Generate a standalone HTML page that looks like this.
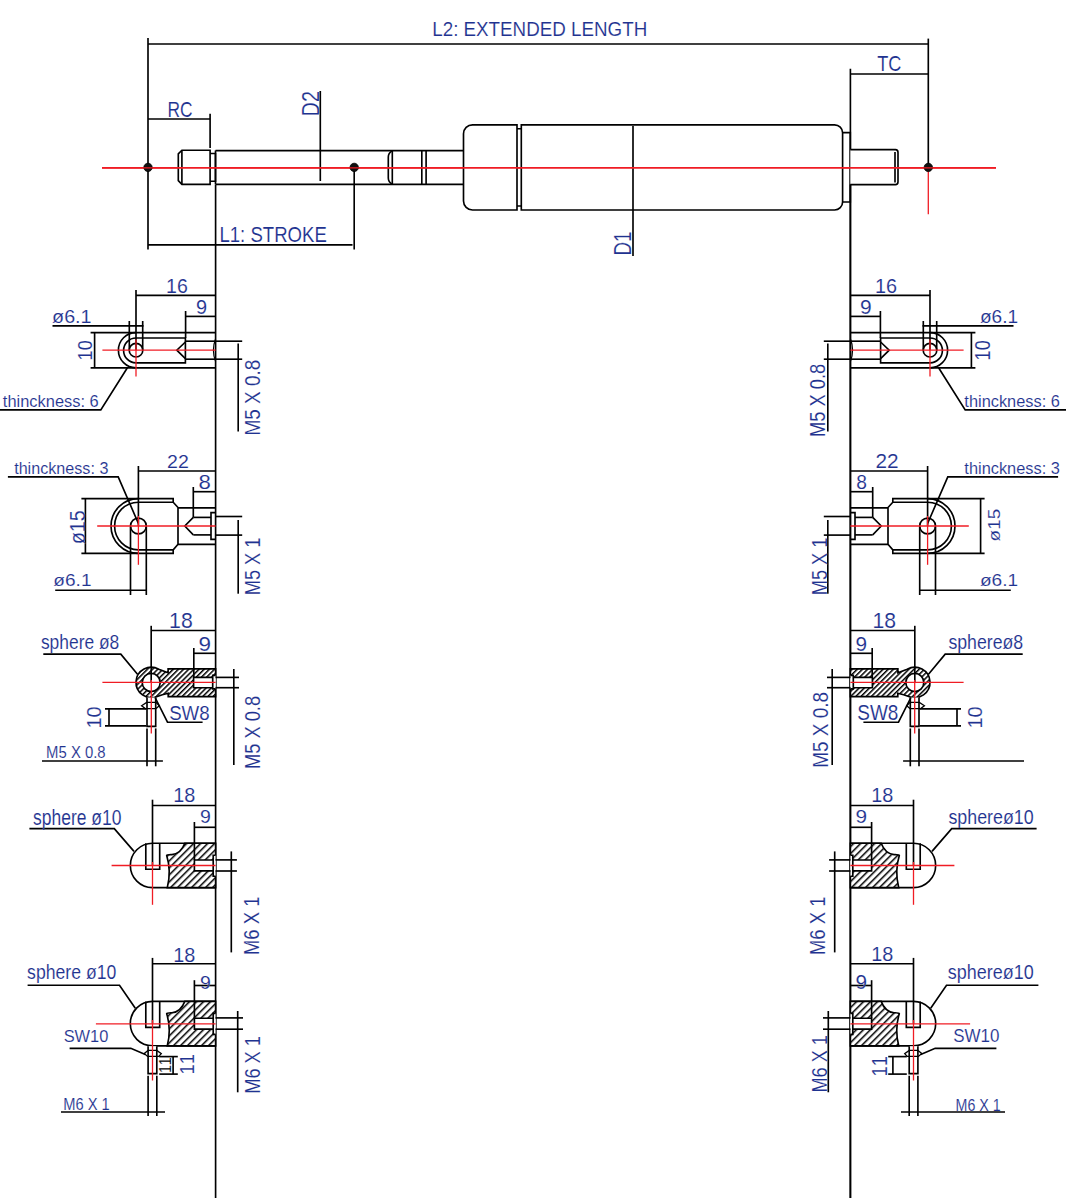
<!DOCTYPE html>
<html><head><meta charset="utf-8"><style>
html,body{margin:0;padding:0;background:#fff;width:1066px;height:1198px;overflow:hidden}
svg{display:block}
text{font-family:"Liberation Sans",sans-serif}
</style></head><body>
<svg width="1066" height="1198" viewBox="0 0 1066 1198" stroke-linecap="butt">
<rect width="1066" height="1198" fill="#fff"/>
<defs>
<pattern id="h3" patternUnits="userSpaceOnUse" width="8" height="3.65" patternTransform="rotate(-45)"><rect width="8" height="3.65" fill="#fff"/><line x1="0" y1="0.7" x2="8" y2="0.7" stroke="#000" stroke-width="1.6"/></pattern>
<pattern id="h3m" patternUnits="userSpaceOnUse" width="8" height="3.65" patternTransform="rotate(45)"><rect width="8" height="3.65" fill="#fff"/><line x1="0" y1="0.7" x2="8" y2="0.7" stroke="#000" stroke-width="1.6"/></pattern>
<pattern id="h4" patternUnits="userSpaceOnUse" width="8" height="4.95" patternTransform="rotate(-45)"><rect width="8" height="4.95" fill="#fff"/><line x1="0" y1="0.7" x2="8" y2="0.7" stroke="#000" stroke-width="1.6"/></pattern>
<pattern id="h4m" patternUnits="userSpaceOnUse" width="8" height="4.95" patternTransform="rotate(45)"><rect width="8" height="4.95" fill="#fff"/><line x1="0" y1="0.7" x2="8" y2="0.7" stroke="#000" stroke-width="1.6"/></pattern>
</defs>
<line x1="102.00" y1="167.80" x2="996.00" y2="167.80" stroke="#f01c24" stroke-width="1.4"/>
<line x1="928.30" y1="167.80" x2="928.30" y2="214.30" stroke="#f01c24" stroke-width="1.3"/>
<line x1="148.00" y1="37.90" x2="148.00" y2="249.50" stroke="#000" stroke-width="1.65"/>
<line x1="148.00" y1="44.00" x2="928.30" y2="44.00" stroke="#000" stroke-width="1.65"/>
<line x1="928.30" y1="38.60" x2="928.30" y2="167.40" stroke="#000" stroke-width="1.65"/>
<line x1="148.00" y1="119.00" x2="210.10" y2="119.00" stroke="#000" stroke-width="1.65"/>
<line x1="210.10" y1="113.80" x2="210.10" y2="148.00" stroke="#000" stroke-width="1.65"/>
<path d="M210.1 150.2 H181.9 L178.3 153.8 V180.6 L181.9 184.3 H210.1 Z" fill="#fff" stroke="#000" stroke-width="1.65" />
<line x1="181.90" y1="150.20" x2="181.90" y2="184.30" stroke="#000" stroke-width="1.65"/>
<path d="M210.1 153.5 H215.5 V181.2 H210.1" fill="none" stroke="#000" stroke-width="1.65" />
<path d="M215.5 150.6 H463.5 M215.5 184.3 H463.5 M215.5 150.6 V184.3" fill="none" stroke="#000" stroke-width="1.65" />
<line x1="320.30" y1="91.00" x2="320.30" y2="181.00" stroke="#000" stroke-width="1.65"/>
<path d="M392.3 150.6 Q388.3 153 388.3 157 V178 Q388.3 182 392.3 184.3" fill="none" stroke="#000" stroke-width="1.65" />
<line x1="392.30" y1="150.60" x2="392.30" y2="184.30" stroke="#000" stroke-width="1.65"/>
<line x1="421.80" y1="150.60" x2="421.80" y2="184.30" stroke="#000" stroke-width="1.65"/>
<line x1="426.10" y1="150.60" x2="426.10" y2="184.30" stroke="#000" stroke-width="1.65"/>
<line x1="354.20" y1="167.40" x2="354.20" y2="249.50" stroke="#000" stroke-width="1.65"/>
<line x1="148.00" y1="244.80" x2="352.50" y2="244.80" stroke="#000" stroke-width="1.65"/>
<path d="M517 124.8 H472.5 A9 9 0 0 0 463.5 133.8 V201 A9 9 0 0 0 472.5 210 H517 Z" fill="#fff" stroke="#000" stroke-width="1.65" />
<path d="M517 128.7 H521.3 M517 206 H521.3" fill="none" stroke="#000" stroke-width="1.65" />
<path d="M521.3 124.8 H834.6 A8 8 0 0 1 842.6 132.8 V202 A8 8 0 0 1 834.6 210 H521.3 Z" fill="#fff" stroke="#000" stroke-width="1.65" />
<line x1="633.00" y1="126.00" x2="633.00" y2="256.00" stroke="#000" stroke-width="1.65"/>
<path d="M842.6 132.6 H850.3 V202 H842.6" fill="none" stroke="#000" stroke-width="1.65" />
<line x1="850.40" y1="68.80" x2="850.40" y2="1198.00" stroke="#000" stroke-width="1.65"/>
<line x1="850.40" y1="74.00" x2="928.30" y2="74.00" stroke="#000" stroke-width="1.65"/>
<path d="M850.3 149.6 H895.5 Q898 149.6 898 152.5 V181.7 Q898 184.6 895.5 184.6 H850.3" fill="#fff" stroke="#000" stroke-width="1.65" />
<line x1="895.00" y1="152.00" x2="895.00" y2="182.50" stroke="#000" stroke-width="1.65"/>
<line x1="102.00" y1="167.80" x2="996.00" y2="167.80" stroke="#f01c24" stroke-width="1.4"/>
<circle cx="148.00" cy="167.40" r="4.20" fill="#111" stroke="#000" stroke-width="0.8"/>
<circle cx="354.20" cy="167.40" r="4.20" fill="#111" stroke="#000" stroke-width="0.8"/>
<circle cx="928.30" cy="167.40" r="4.20" fill="#111" stroke="#000" stroke-width="0.8"/>
<line x1="102.00" y1="167.80" x2="996.00" y2="167.80" stroke="#f01c24" stroke-width="1.3"/>
<g>
<line x1="215.60" y1="184.50" x2="215.60" y2="1198.00" stroke="#000" stroke-width="1.65"/>
<path d="M215.6 332.6 H136.0 A17.6 17.6 0 0 0 136.0 367.8 H215.6" fill="none" stroke="#000" stroke-width="1.65" />
<line x1="90.60" y1="332.60" x2="136.00" y2="332.60" stroke="#000" stroke-width="1.65"/>
<line x1="90.60" y1="367.80" x2="136.00" y2="367.80" stroke="#000" stroke-width="1.65"/>
<line x1="94.60" y1="332.60" x2="94.60" y2="367.80" stroke="#000" stroke-width="1.65"/>
<path d="M185.4 338 H136.0 A12.4 12.4 0 0 0 136.0 362.8 H185.4 Z" fill="none" stroke="#000" stroke-width="1.65" />
<polyline points="185.40,342.00 176.80,350.20 185.40,358.60" fill="none" stroke="#000" stroke-width="1.65"/>
<line x1="185.40" y1="341.20" x2="215.60" y2="341.20" stroke="#000" stroke-width="1.65"/>
<line x1="185.40" y1="359.20" x2="215.60" y2="359.20" stroke="#000" stroke-width="1.65"/>
<path d="M215.6 338.8 Q211.2 350.2 215.6 361.6" fill="none" stroke="#000" stroke-width="1.2" />
<line x1="215.60" y1="341.20" x2="242.20" y2="341.20" stroke="#000" stroke-width="1.65"/>
<line x1="215.60" y1="359.20" x2="242.20" y2="359.20" stroke="#000" stroke-width="1.65"/>
<line x1="238.20" y1="343.50" x2="238.20" y2="431.50" stroke="#000" stroke-width="1.65"/>
<circle cx="136.00" cy="350.20" r="6.80" fill="none" stroke="#000" stroke-width="1.65"/>
<line x1="129.30" y1="321.00" x2="129.30" y2="350.20" stroke="#000" stroke-width="1.65"/>
<line x1="142.70" y1="321.00" x2="142.70" y2="350.20" stroke="#000" stroke-width="1.65"/>
<line x1="52.50" y1="325.90" x2="143.50" y2="325.90" stroke="#000" stroke-width="1.65"/>
<line x1="136.00" y1="290.00" x2="136.00" y2="350.20" stroke="#000" stroke-width="1.65"/>
<line x1="136.00" y1="295.40" x2="215.60" y2="295.40" stroke="#000" stroke-width="1.65"/>
<line x1="185.60" y1="311.00" x2="185.60" y2="338.00" stroke="#000" stroke-width="1.65"/>
<line x1="185.60" y1="316.40" x2="215.60" y2="316.40" stroke="#000" stroke-width="1.65"/>
<polyline points="127.40,367.80 100.80,409.90 0.00,409.90" fill="none" stroke="#000" stroke-width="1.65"/>
<path d="M173.2 502.2 V498.6 H138.4 A27.4 27.4 0 0 0 138.4 553.4 H173.2 V549.8" fill="none" stroke="#000" stroke-width="1.65" />
<line x1="81.40" y1="498.60" x2="138.40" y2="498.60" stroke="#000" stroke-width="1.65"/>
<line x1="81.40" y1="553.40" x2="138.40" y2="553.40" stroke="#000" stroke-width="1.65"/>
<line x1="85.40" y1="498.60" x2="85.40" y2="553.40" stroke="#000" stroke-width="1.65"/>
<path d="M173.2 502.2 H138.4 A23.6 23.6 0 0 0 138.4 549.8 H173.2 L178 544.3 V507.5 Z" fill="none" stroke="#000" stroke-width="1.65" />
<line x1="178.00" y1="507.80" x2="215.60" y2="507.80" stroke="#000" stroke-width="1.65"/>
<line x1="178.00" y1="544.30" x2="215.60" y2="544.30" stroke="#000" stroke-width="1.65"/>
<polyline points="193.30,517.40 184.80,526.00 193.30,534.90" fill="none" stroke="#000" stroke-width="1.65"/>
<line x1="193.30" y1="517.40" x2="211.00" y2="517.40" stroke="#000" stroke-width="1.65"/>
<line x1="193.30" y1="534.90" x2="211.00" y2="534.90" stroke="#000" stroke-width="1.65"/>
<path d="M215.6 512.6 H211 V539.4 H215.6" fill="none" stroke="#000" stroke-width="1.65" />
<line x1="215.60" y1="516.50" x2="242.20" y2="516.50" stroke="#000" stroke-width="1.65"/>
<line x1="215.60" y1="535.10" x2="242.20" y2="535.10" stroke="#000" stroke-width="1.65"/>
<line x1="238.20" y1="520.00" x2="238.20" y2="593.70" stroke="#000" stroke-width="1.65"/>
<circle cx="138.40" cy="526.00" r="7.90" fill="#fff" stroke="#000" stroke-width="1.65"/>
<line x1="130.50" y1="527.00" x2="130.50" y2="595.00" stroke="#000" stroke-width="1.65"/>
<line x1="146.30" y1="527.00" x2="146.30" y2="595.00" stroke="#000" stroke-width="1.65"/>
<line x1="55.20" y1="590.20" x2="146.30" y2="590.20" stroke="#000" stroke-width="1.65"/>
<line x1="138.40" y1="466.00" x2="138.40" y2="526.00" stroke="#000" stroke-width="1.65"/>
<line x1="138.40" y1="471.00" x2="215.60" y2="471.00" stroke="#000" stroke-width="1.65"/>
<line x1="193.30" y1="487.00" x2="193.30" y2="517.40" stroke="#000" stroke-width="1.65"/>
<line x1="193.30" y1="491.70" x2="215.60" y2="491.70" stroke="#000" stroke-width="1.65"/>
<polyline points="138.40,523.50 118.20,476.80 7.90,476.80" fill="none" stroke="#000" stroke-width="1.65"/>
<path d="M215.6 668.8 H168.1 V672.7 Q163.5 671 158.82 669.3 A15.2 15.2 0 1 0 157.24 696.4 Q162 694.5 168.2 693.2 V696.6 H215.6 Z M160.2 682.45 A9.0 9.0 0 1 0 142.2 682.45 A9.0 9.0 0 1 0 160.2 682.45 Z" fill="url(#h3)" stroke="#000" stroke-width="1.65" fill-rule="evenodd"/>
<path d="M215.6 677.4 H193.6 V687.7 H215.6" fill="#fff" stroke="#000" stroke-width="1.65" />
<path d="M215.6 675.3 H212.7 V688.9 H215.6" fill="#fff" stroke="#000" stroke-width="1.65" />
<line x1="215.60" y1="677.40" x2="239.00" y2="677.40" stroke="#000" stroke-width="1.65"/>
<line x1="215.60" y1="687.70" x2="239.00" y2="687.70" stroke="#000" stroke-width="1.65"/>
<line x1="233.80" y1="669.00" x2="233.80" y2="765.00" stroke="#000" stroke-width="1.65"/>
<line x1="151.20" y1="625.80" x2="151.20" y2="682.45" stroke="#000" stroke-width="1.65"/>
<line x1="151.20" y1="630.50" x2="215.60" y2="630.50" stroke="#000" stroke-width="1.65"/>
<line x1="193.80" y1="648.00" x2="193.80" y2="677.40" stroke="#000" stroke-width="1.65"/>
<line x1="193.80" y1="653.30" x2="215.60" y2="653.30" stroke="#000" stroke-width="1.65"/>
<path d="M147 697.5 V726.4 H155.7 V697.5" fill="#fff" stroke="#000" stroke-width="1.65" />
<path d="M141.6 705.8 L146.6 702.4 H156 L159.3 705.8 L156 708.6 H145.3 Z" fill="none" stroke="#000" stroke-width="1.3" />
<line x1="147.00" y1="728.40" x2="147.00" y2="766.30" stroke="#000" stroke-width="1.65"/>
<line x1="155.70" y1="728.40" x2="155.70" y2="766.30" stroke="#000" stroke-width="1.65"/>
<line x1="105.00" y1="708.80" x2="146.30" y2="708.80" stroke="#000" stroke-width="1.65"/>
<line x1="105.00" y1="725.90" x2="146.30" y2="725.90" stroke="#000" stroke-width="1.65"/>
<line x1="109.00" y1="708.80" x2="109.00" y2="725.90" stroke="#000" stroke-width="1.65"/>
<polyline points="137.50,674.30 120.80,654.10 43.30,654.10" fill="none" stroke="#000" stroke-width="1.65"/>
<polyline points="155.10,697.50 167.50,722.20 202.60,722.20" fill="none" stroke="#000" stroke-width="1.65"/>
<line x1="42.00" y1="761.00" x2="162.90" y2="761.00" stroke="#000" stroke-width="1.65"/>
<path d="M215.6 843.2 H152.5 A22.20 22.20 0 0 0 152.5 887.6 H215.6" fill="#fff" stroke="#000" stroke-width="1.65" />
<path d="M145.8 843.2 V869.2 H159.7 V843.2" fill="none" stroke="#000" stroke-width="1.65" />
<path d="M184.8 843.2 H215.6 V887.6 H167.3 Q171.5 871 166.7 855.5 Q167 854.4 172 854.6 Q181 853.5 184.8 843.2 Z" fill="url(#h4)" stroke="#000" stroke-width="1.65" />
<path d="M215.6 860 H194.4 V870.9 H215.6" fill="#fff" stroke="#000" stroke-width="1.65" />
<path d="M215.6 855.2 H213.2 V876.2 H215.6" fill="#fff" stroke="#000" stroke-width="1.65" />
<line x1="152.50" y1="799.70" x2="152.50" y2="865.50" stroke="#000" stroke-width="1.65"/>
<line x1="152.50" y1="805.50" x2="215.60" y2="805.50" stroke="#000" stroke-width="1.65"/>
<line x1="194.40" y1="822.00" x2="194.40" y2="860.00" stroke="#000" stroke-width="1.65"/>
<line x1="194.40" y1="827.30" x2="215.60" y2="827.30" stroke="#000" stroke-width="1.65"/>
<line x1="215.60" y1="859.90" x2="236.90" y2="859.90" stroke="#000" stroke-width="1.65"/>
<line x1="215.60" y1="871.00" x2="236.90" y2="871.00" stroke="#000" stroke-width="1.65"/>
<line x1="231.30" y1="851.40" x2="231.30" y2="952.40" stroke="#000" stroke-width="1.65"/>
<polyline points="134.00,851.40 114.30,828.60 29.40,828.60" fill="none" stroke="#000" stroke-width="1.65"/>
<path d="M215.6 1001.4000000000001 H152.5 A22.20 22.20 0 0 0 152.5 1045.8 H215.6" fill="#fff" stroke="#000" stroke-width="1.65" />
<path d="M145.8 1001.4000000000001 V1027.4 H159.7 V1001.4000000000001" fill="none" stroke="#000" stroke-width="1.65" />
<path d="M184.8 1001.4000000000001 H215.6 V1045.8 H167.3 Q171.5 1029.2 166.7 1013.7 Q167 1012.5999999999999 172 1012.8 Q181 1011.7 184.8 1001.4000000000001 Z" fill="url(#h4)" stroke="#000" stroke-width="1.65" />
<path d="M215.6 1018.2 H194.4 V1029.1 H215.6" fill="#fff" stroke="#000" stroke-width="1.65" />
<path d="M215.6 1013.4000000000001 H213.2 V1034.4 H215.6" fill="#fff" stroke="#000" stroke-width="1.65" />
<line x1="152.50" y1="957.90" x2="152.50" y2="1023.70" stroke="#000" stroke-width="1.65"/>
<line x1="152.50" y1="963.70" x2="215.60" y2="963.70" stroke="#000" stroke-width="1.65"/>
<line x1="194.40" y1="980.20" x2="194.40" y2="1018.20" stroke="#000" stroke-width="1.65"/>
<line x1="194.40" y1="985.50" x2="215.60" y2="985.50" stroke="#000" stroke-width="1.65"/>
<line x1="215.60" y1="1017.90" x2="243.00" y2="1017.90" stroke="#000" stroke-width="1.65"/>
<line x1="215.60" y1="1029.20" x2="243.00" y2="1029.20" stroke="#000" stroke-width="1.65"/>
<line x1="237.70" y1="1011.00" x2="237.70" y2="1092.30" stroke="#000" stroke-width="1.65"/>
<polyline points="135.30,1008.30 119.50,985.20 27.60,985.20" fill="none" stroke="#000" stroke-width="1.65"/>
<path d="M148.1 1046.2 V1073.6 H156.8 V1046.2" fill="#fff" stroke="#000" stroke-width="1.65" />
<path d="M144.2 1053.5 L148.1 1050.4 H156.8 L161.3 1053.6 L158.8 1056.4 H147.6 Z" fill="none" stroke="#000" stroke-width="1.3" />
<line x1="148.10" y1="1075.70" x2="148.10" y2="1116.00" stroke="#000" stroke-width="1.65"/>
<line x1="156.80" y1="1075.70" x2="156.80" y2="1116.00" stroke="#000" stroke-width="1.65"/>
<line x1="159.20" y1="1056.60" x2="177.80" y2="1056.60" stroke="#000" stroke-width="1.65"/>
<line x1="159.20" y1="1074.10" x2="177.80" y2="1074.10" stroke="#000" stroke-width="1.65"/>
<line x1="173.10" y1="1056.60" x2="173.10" y2="1074.10" stroke="#000" stroke-width="1.65"/>
<polyline points="145.30,1054.50 130.80,1048.30 69.60,1048.30" fill="none" stroke="#000" stroke-width="1.65"/>
<line x1="61.00" y1="1112.00" x2="165.00" y2="1112.00" stroke="#000" stroke-width="1.65"/>
<line x1="102.40" y1="350.20" x2="215.60" y2="350.20" stroke="#f01c24" stroke-width="1.3"/>
<line x1="136.00" y1="339.60" x2="136.00" y2="376.40" stroke="#f01c24" stroke-width="1.3"/>
<line x1="97.20" y1="526.00" x2="215.60" y2="526.00" stroke="#f01c24" stroke-width="1.3"/>
<line x1="138.40" y1="516.00" x2="138.40" y2="564.80" stroke="#f01c24" stroke-width="1.3"/>
<line x1="102.40" y1="682.45" x2="215.60" y2="682.45" stroke="#f01c24" stroke-width="1.3"/>
<line x1="151.30" y1="680.00" x2="151.30" y2="733.50" stroke="#f01c24" stroke-width="1.3"/>
<line x1="111.60" y1="865.50" x2="215.60" y2="865.50" stroke="#f01c24" stroke-width="1.3"/>
<line x1="152.50" y1="862.00" x2="152.50" y2="904.80" stroke="#f01c24" stroke-width="1.3"/>
<line x1="95.90" y1="1023.80" x2="215.60" y2="1023.80" stroke="#f01c24" stroke-width="1.3"/>
<line x1="152.50" y1="1020.00" x2="152.50" y2="1080.50" stroke="#f01c24" stroke-width="1.3"/>
</g>
<g transform="matrix(-1 0 0 1 1066 0)">
<line x1="215.60" y1="184.50" x2="215.60" y2="1198.00" stroke="#000" stroke-width="1.65"/>
<path d="M215.6 332.6 H136.0 A17.6 17.6 0 0 0 136.0 367.8 H215.6" fill="none" stroke="#000" stroke-width="1.65" />
<line x1="90.60" y1="332.60" x2="136.00" y2="332.60" stroke="#000" stroke-width="1.65"/>
<line x1="90.60" y1="367.80" x2="136.00" y2="367.80" stroke="#000" stroke-width="1.65"/>
<line x1="94.60" y1="332.60" x2="94.60" y2="367.80" stroke="#000" stroke-width="1.65"/>
<path d="M185.4 338 H136.0 A12.4 12.4 0 0 0 136.0 362.8 H185.4 Z" fill="none" stroke="#000" stroke-width="1.65" />
<polyline points="185.40,342.00 176.80,350.20 185.40,358.60" fill="none" stroke="#000" stroke-width="1.65"/>
<line x1="185.40" y1="341.20" x2="215.60" y2="341.20" stroke="#000" stroke-width="1.65"/>
<line x1="185.40" y1="359.20" x2="215.60" y2="359.20" stroke="#000" stroke-width="1.65"/>
<path d="M215.6 338.8 Q211.2 350.2 215.6 361.6" fill="none" stroke="#000" stroke-width="1.2" />
<line x1="215.60" y1="341.20" x2="242.20" y2="341.20" stroke="#000" stroke-width="1.65"/>
<line x1="215.60" y1="359.20" x2="242.20" y2="359.20" stroke="#000" stroke-width="1.65"/>
<line x1="238.20" y1="343.50" x2="238.20" y2="431.50" stroke="#000" stroke-width="1.65"/>
<circle cx="136.00" cy="350.20" r="6.80" fill="none" stroke="#000" stroke-width="1.65"/>
<line x1="129.30" y1="321.00" x2="129.30" y2="350.20" stroke="#000" stroke-width="1.65"/>
<line x1="142.70" y1="321.00" x2="142.70" y2="350.20" stroke="#000" stroke-width="1.65"/>
<line x1="52.50" y1="325.90" x2="143.50" y2="325.90" stroke="#000" stroke-width="1.65"/>
<line x1="136.00" y1="290.00" x2="136.00" y2="350.20" stroke="#000" stroke-width="1.65"/>
<line x1="136.00" y1="295.40" x2="215.60" y2="295.40" stroke="#000" stroke-width="1.65"/>
<line x1="185.60" y1="311.00" x2="185.60" y2="338.00" stroke="#000" stroke-width="1.65"/>
<line x1="185.60" y1="316.40" x2="215.60" y2="316.40" stroke="#000" stroke-width="1.65"/>
<polyline points="127.40,367.80 100.80,409.90 0.00,409.90" fill="none" stroke="#000" stroke-width="1.65"/>
<path d="M173.2 502.2 V498.6 H138.4 A27.4 27.4 0 0 0 138.4 553.4 H173.2 V549.8" fill="none" stroke="#000" stroke-width="1.65" />
<line x1="81.40" y1="498.60" x2="138.40" y2="498.60" stroke="#000" stroke-width="1.65"/>
<line x1="81.40" y1="553.40" x2="138.40" y2="553.40" stroke="#000" stroke-width="1.65"/>
<line x1="85.40" y1="498.60" x2="85.40" y2="553.40" stroke="#000" stroke-width="1.65"/>
<path d="M173.2 502.2 H138.4 A23.6 23.6 0 0 0 138.4 549.8 H173.2 L178 544.3 V507.5 Z" fill="none" stroke="#000" stroke-width="1.65" />
<line x1="178.00" y1="507.80" x2="215.60" y2="507.80" stroke="#000" stroke-width="1.65"/>
<line x1="178.00" y1="544.30" x2="215.60" y2="544.30" stroke="#000" stroke-width="1.65"/>
<polyline points="193.30,517.40 184.80,526.00 193.30,534.90" fill="none" stroke="#000" stroke-width="1.65"/>
<line x1="193.30" y1="517.40" x2="211.00" y2="517.40" stroke="#000" stroke-width="1.65"/>
<line x1="193.30" y1="534.90" x2="211.00" y2="534.90" stroke="#000" stroke-width="1.65"/>
<path d="M215.6 512.6 H211 V539.4 H215.6" fill="none" stroke="#000" stroke-width="1.65" />
<line x1="215.60" y1="516.50" x2="242.20" y2="516.50" stroke="#000" stroke-width="1.65"/>
<line x1="215.60" y1="535.10" x2="242.20" y2="535.10" stroke="#000" stroke-width="1.65"/>
<line x1="238.20" y1="520.00" x2="238.20" y2="593.70" stroke="#000" stroke-width="1.65"/>
<circle cx="138.40" cy="526.00" r="7.90" fill="#fff" stroke="#000" stroke-width="1.65"/>
<line x1="130.50" y1="527.00" x2="130.50" y2="595.00" stroke="#000" stroke-width="1.65"/>
<line x1="146.30" y1="527.00" x2="146.30" y2="595.00" stroke="#000" stroke-width="1.65"/>
<line x1="55.20" y1="590.20" x2="146.30" y2="590.20" stroke="#000" stroke-width="1.65"/>
<line x1="138.40" y1="466.00" x2="138.40" y2="526.00" stroke="#000" stroke-width="1.65"/>
<line x1="138.40" y1="471.00" x2="215.60" y2="471.00" stroke="#000" stroke-width="1.65"/>
<line x1="193.30" y1="487.00" x2="193.30" y2="517.40" stroke="#000" stroke-width="1.65"/>
<line x1="193.30" y1="491.70" x2="215.60" y2="491.70" stroke="#000" stroke-width="1.65"/>
<polyline points="138.40,523.50 118.20,476.80 7.90,476.80" fill="none" stroke="#000" stroke-width="1.65"/>
<path d="M215.6 668.8 H168.1 V672.7 Q163.5 671 158.82 669.3 A15.2 15.2 0 1 0 157.24 696.4 Q162 694.5 168.2 693.2 V696.6 H215.6 Z M160.2 682.45 A9.0 9.0 0 1 0 142.2 682.45 A9.0 9.0 0 1 0 160.2 682.45 Z" fill="url(#h3m)" stroke="#000" stroke-width="1.65" fill-rule="evenodd"/>
<path d="M215.6 677.4 H193.6 V687.7 H215.6" fill="#fff" stroke="#000" stroke-width="1.65" />
<path d="M215.6 675.3 H212.7 V688.9 H215.6" fill="#fff" stroke="#000" stroke-width="1.65" />
<line x1="215.60" y1="677.40" x2="239.00" y2="677.40" stroke="#000" stroke-width="1.65"/>
<line x1="215.60" y1="687.70" x2="239.00" y2="687.70" stroke="#000" stroke-width="1.65"/>
<line x1="233.80" y1="669.00" x2="233.80" y2="765.00" stroke="#000" stroke-width="1.65"/>
<line x1="151.20" y1="625.80" x2="151.20" y2="682.45" stroke="#000" stroke-width="1.65"/>
<line x1="151.20" y1="630.50" x2="215.60" y2="630.50" stroke="#000" stroke-width="1.65"/>
<line x1="193.80" y1="648.00" x2="193.80" y2="677.40" stroke="#000" stroke-width="1.65"/>
<line x1="193.80" y1="653.30" x2="215.60" y2="653.30" stroke="#000" stroke-width="1.65"/>
<path d="M147 697.5 V726.4 H155.7 V697.5" fill="#fff" stroke="#000" stroke-width="1.65" />
<path d="M141.6 705.8 L146.6 702.4 H156 L159.3 705.8 L156 708.6 H145.3 Z" fill="none" stroke="#000" stroke-width="1.3" />
<line x1="147.00" y1="728.40" x2="147.00" y2="766.30" stroke="#000" stroke-width="1.65"/>
<line x1="155.70" y1="728.40" x2="155.70" y2="766.30" stroke="#000" stroke-width="1.65"/>
<line x1="105.00" y1="708.80" x2="146.30" y2="708.80" stroke="#000" stroke-width="1.65"/>
<line x1="105.00" y1="725.90" x2="146.30" y2="725.90" stroke="#000" stroke-width="1.65"/>
<line x1="109.00" y1="708.80" x2="109.00" y2="725.90" stroke="#000" stroke-width="1.65"/>
<polyline points="137.50,674.30 120.80,654.10 43.30,654.10" fill="none" stroke="#000" stroke-width="1.65"/>
<polyline points="155.10,697.50 167.50,722.20 202.60,722.20" fill="none" stroke="#000" stroke-width="1.65"/>
<line x1="42.00" y1="761.00" x2="162.90" y2="761.00" stroke="#000" stroke-width="1.65"/>
<path d="M215.6 843.2 H152.5 A22.20 22.20 0 0 0 152.5 887.6 H215.6" fill="#fff" stroke="#000" stroke-width="1.65" />
<path d="M145.8 843.2 V869.2 H159.7 V843.2" fill="none" stroke="#000" stroke-width="1.65" />
<path d="M184.8 843.2 H215.6 V887.6 H167.3 Q171.5 871 166.7 855.5 Q167 854.4 172 854.6 Q181 853.5 184.8 843.2 Z" fill="url(#h4m)" stroke="#000" stroke-width="1.65" />
<path d="M215.6 860 H194.4 V870.9 H215.6" fill="#fff" stroke="#000" stroke-width="1.65" />
<path d="M215.6 855.2 H213.2 V876.2 H215.6" fill="#fff" stroke="#000" stroke-width="1.65" />
<line x1="152.50" y1="799.70" x2="152.50" y2="865.50" stroke="#000" stroke-width="1.65"/>
<line x1="152.50" y1="805.50" x2="215.60" y2="805.50" stroke="#000" stroke-width="1.65"/>
<line x1="194.40" y1="822.00" x2="194.40" y2="860.00" stroke="#000" stroke-width="1.65"/>
<line x1="194.40" y1="827.30" x2="215.60" y2="827.30" stroke="#000" stroke-width="1.65"/>
<line x1="215.60" y1="859.90" x2="236.90" y2="859.90" stroke="#000" stroke-width="1.65"/>
<line x1="215.60" y1="871.00" x2="236.90" y2="871.00" stroke="#000" stroke-width="1.65"/>
<line x1="231.30" y1="851.40" x2="231.30" y2="952.40" stroke="#000" stroke-width="1.65"/>
<polyline points="134.00,851.40 114.30,828.60 29.40,828.60" fill="none" stroke="#000" stroke-width="1.65"/>
<path d="M215.6 1001.4000000000001 H152.5 A22.20 22.20 0 0 0 152.5 1045.8 H215.6" fill="#fff" stroke="#000" stroke-width="1.65" />
<path d="M145.8 1001.4000000000001 V1027.4 H159.7 V1001.4000000000001" fill="none" stroke="#000" stroke-width="1.65" />
<path d="M184.8 1001.4000000000001 H215.6 V1045.8 H167.3 Q171.5 1029.2 166.7 1013.7 Q167 1012.5999999999999 172 1012.8 Q181 1011.7 184.8 1001.4000000000001 Z" fill="url(#h4m)" stroke="#000" stroke-width="1.65" />
<path d="M215.6 1018.2 H194.4 V1029.1 H215.6" fill="#fff" stroke="#000" stroke-width="1.65" />
<path d="M215.6 1013.4000000000001 H213.2 V1034.4 H215.6" fill="#fff" stroke="#000" stroke-width="1.65" />
<line x1="152.50" y1="957.90" x2="152.50" y2="1023.70" stroke="#000" stroke-width="1.65"/>
<line x1="152.50" y1="963.70" x2="215.60" y2="963.70" stroke="#000" stroke-width="1.65"/>
<line x1="194.40" y1="980.20" x2="194.40" y2="1018.20" stroke="#000" stroke-width="1.65"/>
<line x1="194.40" y1="985.50" x2="215.60" y2="985.50" stroke="#000" stroke-width="1.65"/>
<line x1="215.60" y1="1017.90" x2="243.00" y2="1017.90" stroke="#000" stroke-width="1.65"/>
<line x1="215.60" y1="1029.20" x2="243.00" y2="1029.20" stroke="#000" stroke-width="1.65"/>
<line x1="237.70" y1="1011.00" x2="237.70" y2="1092.30" stroke="#000" stroke-width="1.65"/>
<polyline points="135.30,1008.30 119.50,985.20 27.60,985.20" fill="none" stroke="#000" stroke-width="1.65"/>
<path d="M148.1 1046.2 V1073.6 H156.8 V1046.2" fill="#fff" stroke="#000" stroke-width="1.65" />
<path d="M144.2 1053.5 L148.1 1050.4 H156.8 L161.3 1053.6 L158.8 1056.4 H147.6 Z" fill="none" stroke="#000" stroke-width="1.3" />
<line x1="148.10" y1="1075.70" x2="148.10" y2="1116.00" stroke="#000" stroke-width="1.65"/>
<line x1="156.80" y1="1075.70" x2="156.80" y2="1116.00" stroke="#000" stroke-width="1.65"/>
<line x1="159.20" y1="1056.60" x2="177.80" y2="1056.60" stroke="#000" stroke-width="1.65"/>
<line x1="159.20" y1="1074.10" x2="177.80" y2="1074.10" stroke="#000" stroke-width="1.65"/>
<line x1="173.10" y1="1056.60" x2="173.10" y2="1074.10" stroke="#000" stroke-width="1.65"/>
<polyline points="145.30,1054.50 130.80,1048.30 69.60,1048.30" fill="none" stroke="#000" stroke-width="1.65"/>
<line x1="61.00" y1="1112.00" x2="165.00" y2="1112.00" stroke="#000" stroke-width="1.65"/>
<line x1="102.40" y1="350.20" x2="215.60" y2="350.20" stroke="#f01c24" stroke-width="1.3"/>
<line x1="136.00" y1="339.60" x2="136.00" y2="376.40" stroke="#f01c24" stroke-width="1.3"/>
<line x1="97.20" y1="526.00" x2="215.60" y2="526.00" stroke="#f01c24" stroke-width="1.3"/>
<line x1="138.40" y1="516.00" x2="138.40" y2="564.80" stroke="#f01c24" stroke-width="1.3"/>
<line x1="102.40" y1="682.45" x2="215.60" y2="682.45" stroke="#f01c24" stroke-width="1.3"/>
<line x1="151.30" y1="680.00" x2="151.30" y2="733.50" stroke="#f01c24" stroke-width="1.3"/>
<line x1="111.60" y1="865.50" x2="215.60" y2="865.50" stroke="#f01c24" stroke-width="1.3"/>
<line x1="152.50" y1="862.00" x2="152.50" y2="904.80" stroke="#f01c24" stroke-width="1.3"/>
<line x1="95.90" y1="1023.80" x2="215.60" y2="1023.80" stroke="#f01c24" stroke-width="1.3"/>
<line x1="152.50" y1="1020.00" x2="152.50" y2="1080.50" stroke="#f01c24" stroke-width="1.3"/>
</g>
<g font-family="Liberation Sans, sans-serif" style="font-kerning:none" stroke="#fff" stroke-width="0.12">
<text x="432.26" y="35.60" font-size="20.77" fill="#1f3390" textLength="214.97" lengthAdjust="spacingAndGlyphs">L2: EXTENDED LENGTH</text>
<text x="167.58" y="116.80" font-size="21.48" fill="#1f3390" textLength="25.09" lengthAdjust="spacingAndGlyphs">RC</text>
<text x="219.48" y="241.60" font-size="21.77" fill="#1f3390" textLength="107.32" lengthAdjust="spacingAndGlyphs">L1: STROKE</text>
<text x="877.29" y="71.40" font-size="21.34" fill="#1f3390" textLength="24.20" lengthAdjust="spacingAndGlyphs">TC</text>
<text x="319.50" y="116.43" font-size="23.63" fill="#1f3390" textLength="25.43" lengthAdjust="spacingAndGlyphs" transform="rotate(-90 319.50 116.43)">D2</text>
<text x="631.00" y="255.54" font-size="23.26" fill="#1f3390" textLength="23.95" lengthAdjust="spacingAndGlyphs" transform="rotate(-90 631.00 255.54)">D1</text>
<text x="166.11" y="292.80" font-size="20.91" fill="#1f3390" textLength="21.75" lengthAdjust="spacingAndGlyphs">16</text>
<text x="195.97" y="313.60" font-size="20.91" fill="#1f3390" textLength="11.08" lengthAdjust="spacingAndGlyphs">9</text>
<text x="52.08" y="322.50" font-size="18.76" fill="#1f3390" textLength="39.49" lengthAdjust="spacingAndGlyphs">ø6.1</text>
<text x="92.00" y="360.38" font-size="20.77" fill="#1f3390" textLength="20.08" lengthAdjust="spacingAndGlyphs" transform="rotate(-90 92.00 360.38)">10</text>
<text x="260.00" y="435.55" font-size="22.49" fill="#1f3390" textLength="75.78" lengthAdjust="spacingAndGlyphs" transform="rotate(-90 260.00 435.55)">M5 X 0.8</text>
<text x="2.85" y="406.90" font-size="17.39" fill="#1f3390" textLength="95.87" lengthAdjust="spacingAndGlyphs">thinckness: 6</text>
<text x="875.09" y="292.80" font-size="20.91" fill="#1f3390" textLength="22.08" lengthAdjust="spacingAndGlyphs">16</text>
<text x="859.92" y="313.60" font-size="20.91" fill="#1f3390" textLength="11.68" lengthAdjust="spacingAndGlyphs">9</text>
<text x="979.99" y="322.50" font-size="18.76" fill="#1f3390" textLength="38.14" lengthAdjust="spacingAndGlyphs">ø6.1</text>
<text x="989.60" y="360.38" font-size="22.63" fill="#1f3390" textLength="20.08" lengthAdjust="spacingAndGlyphs" transform="rotate(-90 989.60 360.38)">10</text>
<text x="825.40" y="437.00" font-size="22.63" fill="#1f3390" textLength="73.20" lengthAdjust="spacingAndGlyphs" transform="rotate(-90 825.40 437.00)">M5 X 0.8</text>
<text x="964.35" y="406.90" font-size="17.39" fill="#1f3390" textLength="95.57" lengthAdjust="spacingAndGlyphs">thinckness: 6</text>
<text x="167.02" y="468.40" font-size="18.05" fill="#1f3390" textLength="21.77" lengthAdjust="spacingAndGlyphs">22</text>
<text x="198.64" y="489.40" font-size="19.91" fill="#1f3390" textLength="12.33" lengthAdjust="spacingAndGlyphs">8</text>
<text x="14.16" y="474.10" font-size="16.28" fill="#1f3390" textLength="94.25" lengthAdjust="spacingAndGlyphs">thinckness: 3</text>
<text x="84.60" y="544.22" font-size="22.97" fill="#1f3390" textLength="34.05" lengthAdjust="spacingAndGlyphs" transform="rotate(-90 84.60 544.22)">ø15</text>
<text x="260.00" y="595.19" font-size="22.82" fill="#1f3390" textLength="57.58" lengthAdjust="spacingAndGlyphs" transform="rotate(-90 260.00 595.19)">M5 X 1</text>
<text x="53.39" y="585.80" font-size="16.90" fill="#1f3390" textLength="38.14" lengthAdjust="spacingAndGlyphs">ø6.1</text>
<text x="875.56" y="468.40" font-size="20.05" fill="#1f3390" textLength="23.09" lengthAdjust="spacingAndGlyphs">22</text>
<text x="856.17" y="489.40" font-size="19.91" fill="#1f3390" textLength="10.67" lengthAdjust="spacingAndGlyphs">8</text>
<text x="964.35" y="474.10" font-size="16.28" fill="#1f3390" textLength="95.57" lengthAdjust="spacingAndGlyphs">thinckness: 3</text>
<text x="1000.00" y="541.41" font-size="17.01" fill="#1f3390" textLength="32.60" lengthAdjust="spacingAndGlyphs" transform="rotate(-90 1000.00 541.41)">ø15</text>
<text x="826.70" y="595.19" font-size="22.82" fill="#1f3390" textLength="57.58" lengthAdjust="spacingAndGlyphs" transform="rotate(-90 826.70 595.19)">M5 X 1</text>
<text x="979.99" y="585.80" font-size="16.90" fill="#1f3390" textLength="38.14" lengthAdjust="spacingAndGlyphs">ø6.1</text>
<text x="169.08" y="628.00" font-size="21.48" fill="#1f3390" textLength="23.64" lengthAdjust="spacingAndGlyphs">18</text>
<text x="198.54" y="650.70" font-size="21.05" fill="#1f3390" textLength="12.52" lengthAdjust="spacingAndGlyphs">9</text>
<text x="40.92" y="648.70" font-size="19.87" fill="#1f3390" textLength="78.34" lengthAdjust="spacingAndGlyphs">sphere ø8</text>
<text x="169.15" y="719.70" font-size="20.77" fill="#1f3390" textLength="40.46" lengthAdjust="spacingAndGlyphs">SW8</text>
<text x="101.10" y="728.53" font-size="20.62" fill="#1f3390" textLength="22.31" lengthAdjust="spacingAndGlyphs" transform="rotate(-90 101.10 728.53)">10</text>
<text x="260.00" y="769.10" font-size="22.49" fill="#1f3390" textLength="73.20" lengthAdjust="spacingAndGlyphs" transform="rotate(-90 260.00 769.10)">M5 X 0.8</text>
<text x="46.08" y="758.40" font-size="16.90" fill="#1f3390" textLength="59.57" lengthAdjust="spacingAndGlyphs">M5 X 0.8</text>
<text x="872.39" y="628.00" font-size="21.48" fill="#1f3390" textLength="23.53" lengthAdjust="spacingAndGlyphs">18</text>
<text x="855.43" y="650.70" font-size="21.05" fill="#1f3390" textLength="11.56" lengthAdjust="spacingAndGlyphs">9</text>
<text x="948.41" y="648.90" font-size="21.11" fill="#1f3390" textLength="74.76" lengthAdjust="spacingAndGlyphs">sphereø8</text>
<text x="857.34" y="719.80" font-size="21.77" fill="#1f3390" textLength="41.08" lengthAdjust="spacingAndGlyphs">SW8</text>
<text x="981.70" y="728.53" font-size="20.77" fill="#1f3390" textLength="22.31" lengthAdjust="spacingAndGlyphs" transform="rotate(-90 981.70 728.53)">10</text>
<text x="828.00" y="767.86" font-size="22.49" fill="#1f3390" textLength="75.98" lengthAdjust="spacingAndGlyphs" transform="rotate(-90 828.00 767.86)">M5 X 0.8</text>
<text x="173.19" y="802.30" font-size="20.48" fill="#1f3390" textLength="22.07" lengthAdjust="spacingAndGlyphs">18</text>
<text x="200.09" y="823.30" font-size="19.05" fill="#1f3390" textLength="10.84" lengthAdjust="spacingAndGlyphs">9</text>
<text x="33.11" y="824.70" font-size="21.67" fill="#1f3390" textLength="88.37" lengthAdjust="spacingAndGlyphs">sphere ø10</text>
<text x="259.20" y="955.01" font-size="21.77" fill="#1f3390" textLength="58.41" lengthAdjust="spacingAndGlyphs" transform="rotate(-90 259.20 955.01)">M6 X 1</text>
<text x="871.19" y="802.30" font-size="20.48" fill="#1f3390" textLength="22.07" lengthAdjust="spacingAndGlyphs">18</text>
<text x="855.43" y="823.30" font-size="19.05" fill="#1f3390" textLength="11.56" lengthAdjust="spacingAndGlyphs">9</text>
<text x="948.40" y="824.00" font-size="20.70" fill="#1f3390" textLength="85.29" lengthAdjust="spacingAndGlyphs">sphereø10</text>
<text x="825.40" y="955.01" font-size="22.63" fill="#1f3390" textLength="58.41" lengthAdjust="spacingAndGlyphs" transform="rotate(-90 825.40 955.01)">M6 X 1</text>
<text x="173.19" y="962.30" font-size="20.48" fill="#1f3390" textLength="22.07" lengthAdjust="spacingAndGlyphs">18</text>
<text x="200.09" y="988.60" font-size="18.76" fill="#1f3390" textLength="10.84" lengthAdjust="spacingAndGlyphs">9</text>
<text x="27.11" y="979.40" font-size="19.87" fill="#1f3390" textLength="89.18" lengthAdjust="spacingAndGlyphs">sphere ø10</text>
<text x="63.65" y="1042.40" font-size="16.90" fill="#1f3390" textLength="44.69" lengthAdjust="spacingAndGlyphs">SW10</text>
<text x="193.80" y="1074.39" font-size="21.08" fill="#1f3390" textLength="20.28" lengthAdjust="spacingAndGlyphs" transform="rotate(-90 193.80 1074.39)">11</text>
<text x="170.60" y="1073.08" font-size="15.84" fill="#000" textLength="15.77" lengthAdjust="spacingAndGlyphs" transform="rotate(-90 170.60 1073.08)">11</text>
<text x="260.00" y="1093.79" font-size="22.49" fill="#1f3390" textLength="57.68" lengthAdjust="spacingAndGlyphs" transform="rotate(-90 260.00 1093.79)">M6 X 1</text>
<text x="63.20" y="1110.20" font-size="16.04" fill="#1f3390" textLength="46.52" lengthAdjust="spacingAndGlyphs">M6 X 1</text>
<text x="871.19" y="961.00" font-size="20.62" fill="#1f3390" textLength="22.07" lengthAdjust="spacingAndGlyphs">18</text>
<text x="855.43" y="988.60" font-size="20.91" fill="#1f3390" textLength="11.56" lengthAdjust="spacingAndGlyphs">9</text>
<text x="947.80" y="979.40" font-size="19.87" fill="#1f3390" textLength="85.90" lengthAdjust="spacingAndGlyphs">sphereø10</text>
<text x="953.23" y="1042.40" font-size="18.76" fill="#1f3390" textLength="46.23" lengthAdjust="spacingAndGlyphs">SW10</text>
<text x="886.60" y="1076.39" font-size="21.80" fill="#1f3390" textLength="20.28" lengthAdjust="spacingAndGlyphs" transform="rotate(-90 886.60 1076.39)">11</text>
<text x="826.70" y="1092.49" font-size="22.49" fill="#1f3390" textLength="57.37" lengthAdjust="spacingAndGlyphs" transform="rotate(-90 826.70 1092.49)">M6 X 1</text>
<text x="955.53" y="1111.00" font-size="17.19" fill="#1f3390" textLength="45.17" lengthAdjust="spacingAndGlyphs">M6 X 1</text>
</g>
</svg></body></html>
